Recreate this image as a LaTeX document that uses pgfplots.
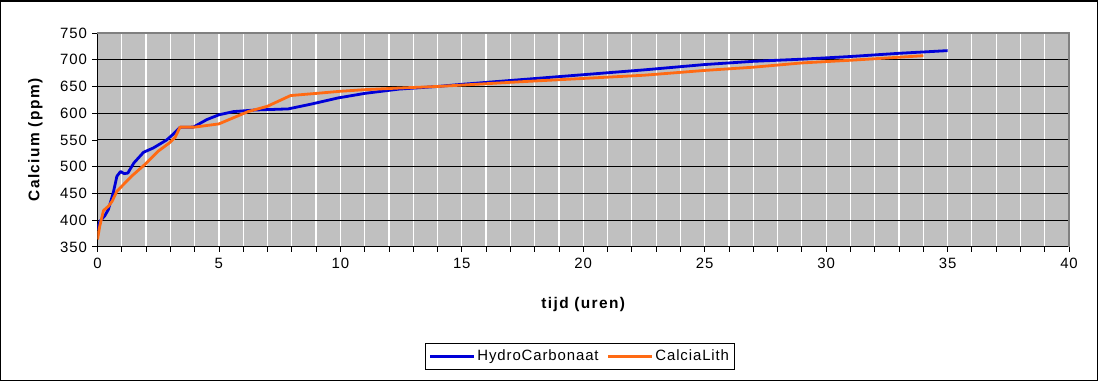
\documentclass[border=0pt]{standalone}
\usepackage{fontspec}
\setmainfont{Liberation Sans}[LetterSpace=6]
\newfontfamily\boldspaced{Liberation Sans}[LetterSpace=9,UprightFont=*-Bold]
\usepackage{pgfplots}
\pgfplotsset{compat=1.18}
\definecolor{plotgray}{HTML}{C0C0C0}
\definecolor{bordergray}{HTML}{808080}
\definecolor{hblue}{HTML}{0000D8}
\definecolor{corange}{HTML}{FF6A13}
\begin{document}
\begin{tikzpicture}[x=1bp,y=1bp]
\draw[line width=1.5bp] (-96.75,-133.5) rectangle (1000.25,246.25);
\begin{axis}[
  at={(0,0)}, anchor=south west,
  scale only axis, width=972bp, height=214bp,
  xmin=0, xmax=40, ymin=350, ymax=750,
  xtick={0,5,...,40}, minor x tick num=4,
  ytick={350,400,...,750},
  axis x line*=bottom, axis y line*=left,
  axis line style={-, black, line width=1bp},
  axis background/.style={fill=plotgray},
  xmajorgrids, xminorgrids, ymajorgrids,
  major x grid style={white, line width=1.2bp},
  minor x grid style={white, line width=1.2bp},
  major y grid style={black, line width=1bp},
  tick align=outside, major tick length=5bp, minor tick length=5bp,
  tick style={black, line width=0.8bp},
  /pgf/number format/assume math mode=true,
  /pgf/number format/1000 sep={},
  tick label style={font=\fontsize{15}{17}\selectfont},
  xticklabel style={yshift=-3bp},
  yticklabel style={xshift=-2bp},
  xlabel={tijd (uren)}, ylabel={Calcium (ppm)},
  label style={font=\boldspaced\fontsize{15.5}{18}\selectfont},
  xlabel style={at={(axis description cs:0.5,-0.271)}, anchor=center},
  ylabel style={at={(axis description cs:-0.0638,0.5)}, anchor=center},
  legend columns=2,
  legend style={at={(0.4965,-0.511)}, anchor=center, draw=black, line width=0.8bp,
    font=\fontsize{15}{17}\selectfont, inner xsep=3bp, inner ysep=5bp,
    /tikz/every even column/.append style={column sep=6bp}},
  legend cell align=left,
  legend image code/.code={\draw[#1] (0bp,0bp) -- (44bp,0bp);},
  after end axis/.code={\draw[bordergray, line width=2bp] (rel axis cs:0,1) -- (rel axis cs:1,1) -- (rel axis cs:1,0);},
]
\addplot[hblue, line width=2.8bp, line join=round] coordinates {
(0,382) (0.1,398) (0.3,408) (0.45,420) (0.65,451) (0.8,482) (0.95,491) (1.1,487)
(1.25,488) (1.5,507) (1.9,527) (2.3,535) (2.85,550) (3.1,560) (3.4,573.5) (3.95,574)
(4.5,588) (5,597) (5.6,603) (6.5,606) (7.85,608) (8.8,617) (9.9,628.5) (11,637)
(12.4,645) (14,650) (15,654) (17.5,663) (20,672) (22.5,681) (25,691) (27,697)
(29,701) (31,706) (33,712) (35,717)
};
\addlegendentry{HydroCarbonaat}
\addplot[corange, line width=2.8bp, line join=round] coordinates {
(0,364) (0.1,390) (0.25,418) (0.45,426) (0.6,435) (0.8,454) (1.4,482) (1.95,504)
(2.5,529) (2.95,544) (3.2,555) (3.4,574) (4.0,574) (5,580) (6.2,603) (7,613)
(7.95,633) (9,637) (10,641) (11,644) (12.4,647) (14,650) (17.5,659) (20,665)
(22.5,671) (25,680) (27,686) (29,694) (31,699) (34,707.5)
};
\addlegendentry{CalciaLith}
\end{axis}
\end{tikzpicture}
\end{document}
